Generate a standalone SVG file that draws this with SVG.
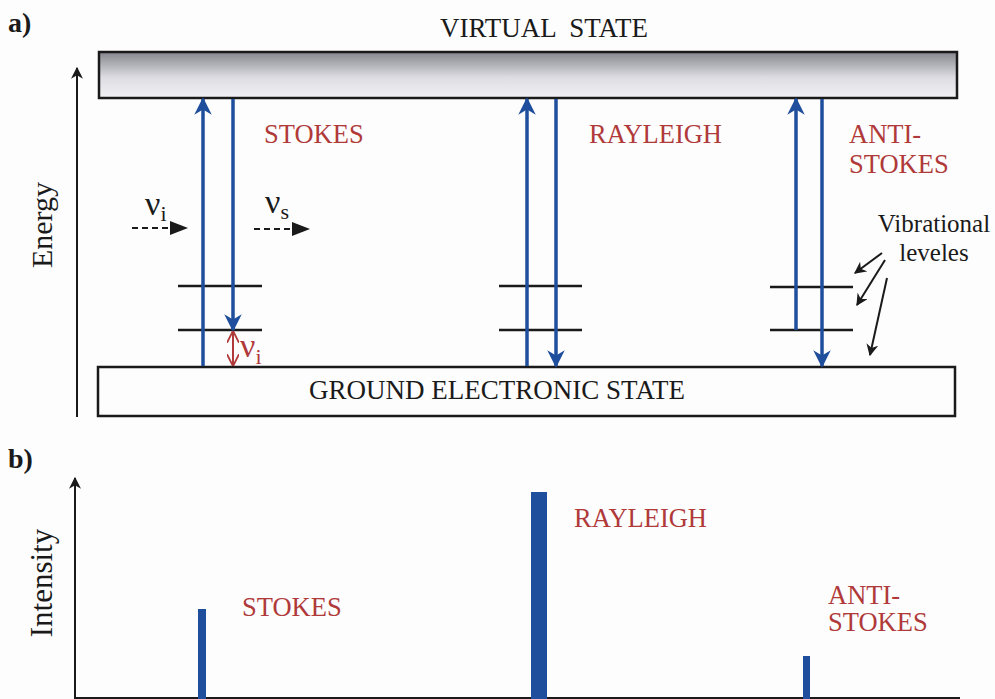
<svg xmlns="http://www.w3.org/2000/svg" width="995" height="699" viewBox="0 0 995 699">
<style>
.t{font-family:"Liberation Serif","Times New Roman",serif;fill:#1a1a1a}
.r{font-family:"Liberation Serif","Times New Roman",serif;fill:#b03a3a;font-size:26.5px}
.box{stroke:#1a1a1a;stroke-width:2.5}
.blue{stroke:#1f4e9c;stroke-width:3.5;fill:none}
.lvl{stroke:#1a1a1a;stroke-width:2.5}
.ax{stroke:#1a1a1a;stroke-width:2;fill:none}
.bar{fill:#1f4e9c}
</style>
<defs>
<linearGradient id="g" x1="0" y1="0" x2="0" y2="1">
<stop offset="0" stop-color="#85858d"/>
<stop offset="0.55" stop-color="#dcdce2"/>
<stop offset="1" stop-color="#f2f2f5"/>
</linearGradient>
<marker id="ab" viewBox="0 0 10 10" refX="9" refY="5" markerWidth="5" markerHeight="5" markerUnits="strokeWidth" orient="auto-start-reverse"><path d="M0,0 L10,5 L0,10 L3,5 Z" fill="#1f4e9c"/></marker>
<marker id="ak" viewBox="0 0 10 10" refX="9" refY="5" markerWidth="6" markerHeight="6" markerUnits="strokeWidth" orient="auto"><path d="M0,0 L10,5 L0,10 L3,5 Z" fill="#1a1a1a"/></marker>
<marker id="ar" viewBox="0 0 10 10" refX="9" refY="5" markerWidth="6" markerHeight="6" markerUnits="strokeWidth" orient="auto-start-reverse"><path d="M0,0 L10,5 L0,10" fill="none" stroke="#b03a3a" stroke-width="1.5"/></marker>
</defs>
<rect width="995" height="699" fill="#fdfdfd"/>

<text class="t" x="8" y="32" font-size="28" font-weight="bold">a)</text>
<text class="t" x="8" y="468" font-size="28" font-weight="bold">b)</text>

<g id="virtual-state">
<rect class="box" x="99" y="52" width="858" height="46" fill="url(#g)"/>
<text class="t" x="544" y="37" font-size="27" text-anchor="middle" xml:space="preserve">VIRTUAL  STATE</text>
</g>
<g id="ground-state">
<rect class="box" x="98" y="367" width="857" height="49" fill="#fdfdfd"/>
<text class="t" x="497" y="399" font-size="27" text-anchor="middle">GROUND ELECTRONIC STATE</text>
</g>

<g id="energy-axis">
<line class="ax" x1="77" y1="417" x2="77" y2="68" marker-end="url(#ak)"/>
<text class="t" x="52" y="225" font-size="30" text-anchor="middle" transform="rotate(-90 52 225)">Energy</text>
</g>

<g id="levels">
<line class="lvl" x1="178" y1="286" x2="262" y2="286"/>
<line class="lvl" x1="178" y1="330" x2="262" y2="330"/>
<line class="lvl" x1="499" y1="286" x2="582" y2="286"/>
<line class="lvl" x1="499" y1="330" x2="582" y2="330"/>
<line class="lvl" x1="770" y1="287" x2="853" y2="287"/>
<line class="lvl" x1="770" y1="330" x2="853" y2="330"/>
</g>

<g id="connectors">
<line class="blue" x1="203" y1="366" x2="203" y2="99" marker-end="url(#ab)"/>
<line class="blue" x1="233" y1="99" x2="233" y2="330" marker-end="url(#ab)"/>
<line stroke="#b03a3a" stroke-width="2" x1="233" y1="332" x2="233" y2="365" marker-start="url(#ar)" marker-end="url(#ar)"/>
<line class="blue" x1="527" y1="366" x2="527" y2="99" marker-end="url(#ab)"/>
<line class="blue" x1="556" y1="99" x2="556" y2="366" marker-end="url(#ab)"/>
<line class="blue" x1="796" y1="330" x2="796" y2="99" marker-end="url(#ab)"/>
<line class="blue" x1="822" y1="99" x2="822" y2="366" marker-end="url(#ab)"/>
<line stroke="#1a1a1a" stroke-width="2" stroke-dasharray="6,4" x1="132" y1="228" x2="178" y2="228"/>
<path d="M170,221 L188,228 L170,235 Z" fill="#1a1a1a"/>
<line stroke="#1a1a1a" stroke-width="2" stroke-dasharray="6,4" x1="254" y1="229" x2="296" y2="229"/>
<path d="M292,222 L310,229 L292,236 Z" fill="#1a1a1a"/>
<line class="ax" x1="882" y1="253" x2="855" y2="273" marker-end="url(#ak)"/>
<line class="ax" x1="885" y1="260" x2="857" y2="305" marker-end="url(#ak)"/>
<line class="ax" x1="887" y1="278" x2="870" y2="355" marker-end="url(#ak)"/>
</g>

<g id="labels-a">
<text class="r" x="264" y="143">STOKES</text>
<text class="r" x="589" y="143">RAYLEIGH</text>
<text class="r" x="849" y="143">ANTI-</text>
<text class="r" x="849" y="173">STOKES</text>
<text class="t" x="145" y="215" font-size="34">ν<tspan font-size="22" dy="6">i</tspan></text>
<text class="t" x="265" y="213" font-size="34">ν<tspan font-size="22" dy="6">s</tspan></text>
<text x="240" y="357" font-family="Liberation Serif,serif" font-size="34" fill="#b03a3a">ν<tspan font-size="22" dy="7">i</tspan></text>
<text class="t" x="934" y="232" font-size="25" text-anchor="middle">Vibrational</text>
<text class="t" x="934" y="261" font-size="25" text-anchor="middle">leveles</text>
</g>

<g id="spectrum">
<line class="ax" x1="75" y1="699" x2="75" y2="478" marker-end="url(#ak)"/>
<line class="ax" x1="75" y1="698" x2="960" y2="698"/>
<text class="t" x="52" y="583" font-size="31" text-anchor="middle" transform="rotate(-90 52 583)">Intensity</text>
<rect class="bar" x="198" y="609" width="8" height="90"/>
<rect class="bar" x="531" y="492" width="16" height="207"/>
<rect class="bar" x="803" y="656" width="7" height="43"/>
<text class="r" x="242" y="616">STOKES</text>
<text class="r" x="574" y="527">RAYLEIGH</text>
<text class="r" x="828" y="604">ANTI-</text>
<text class="r" x="828" y="631">STOKES</text>
</g>
</svg>
